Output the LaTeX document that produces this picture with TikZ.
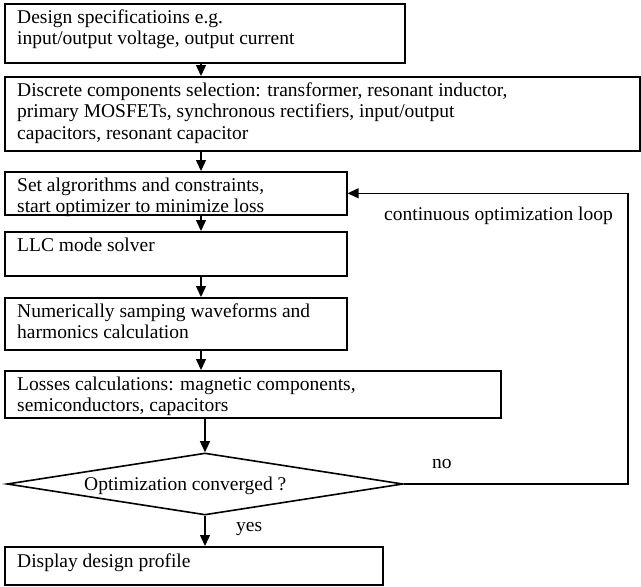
\documentclass[tikz,border=0pt]{standalone}
\usepackage{fontspec}
\setmainfont{Liberation Serif}
\usetikzlibrary{arrows.meta,shapes.geometric}
\begin{document}
\begin{tikzpicture}[x=1pt,y=-1pt,
 box/.style={draw, line width=1.6pt, anchor=north west, inner sep=0pt},
 txt/.style={anchor=base west, align=left, inner sep=0pt, font=\fontsize{19.5}{21.5}\selectfont},
 arr/.style={line width=1.4pt, -{Triangle[length=11pt,width=10pt]}},
 ln/.style={line width=1.4pt}]
\useasboundingbox (0,0) rectangle (641,587);
% boxes
\node[box, minimum width=400pt, minimum height=59pt] (b1) at (4,3) {};
\node[box, minimum width=635pt, minimum height=74pt] (b2) at (4,76) {};
\node[box, minimum width=342pt, minimum height=43pt] (b3) at (4,171) {};
\node[box, minimum width=342pt, minimum height=44pt] (b4) at (4,231) {};
\node[box, minimum width=342pt, minimum height=52pt] (b5) at (4,297) {};
\node[box, minimum width=496pt, minimum height=47pt] (b6) at (4,370) {};
\node[draw, shape=diamond, line width=1.6pt, inner sep=0pt, minimum width=396pt, minimum height=62pt] (d) at (205,484) {};
\node[box, minimum width=378pt, minimum height=38pt] (b7) at (4,546) {};
% texts (base anchor = baseline of last line)
\node[txt] (t1) at (17,44.5) {Design specificatioins e.g.\\input/output voltage, output current};
\node[txt] (t2) at (17,139) {Discrete components selection: transformer, resonant inductor,\\primary MOSFETs, synchronous rectifiers, input/output\\capacitors, resonant capacitor};
\node[txt] (t3) at (17,212.5) {Set algrorithms and constraints,\\start optimizer to minimize loss};
\node[txt] (t4) at (17,251) {LLC mode solver};
\node[txt] (t5) at (17,338.5) {Numerically samping waveforms and\\harmonics calculation};
\node[txt] (t6) at (17,411.5) {Losses calculations: magnetic components,\\semiconductors, capacitors};
\node[txt] (td) at (84,490) {Optimization converged ?};
\node[txt] (t7) at (17,567) {Display design profile};
\node[txt] (lloop) at (384,220) {continuous optimization loop};
\node[txt] (lno) at (432,468) {no};
\node[txt] (lyes) at (236,531) {yes};
% connectors
\coordinate (ax) at (201,0);
\coordinate (bx) at (205,0);
\coordinate (rx) at (628,0);
\draw[arr] (b1.south -| ax) -- (b2.north -| ax);
\draw[arr] (b2.south -| ax) -- (b3.north -| ax);
\draw[arr] (b3.south -| ax) -- (b4.north -| ax);
\draw[arr] (b4.south -| ax) -- (b5.north -| ax);
\draw[arr] (b5.south -| ax) -- (b6.north -| ax);
\draw[arr] (b6.south -| bx) -- (d.north);
\draw[arr] (d.south) -- (b7.north -| bx);
\draw[arr] (d.east) -- (d.east -| rx) -- (b3.east -| rx) -- (b3.east);
\end{tikzpicture}
\end{document}
